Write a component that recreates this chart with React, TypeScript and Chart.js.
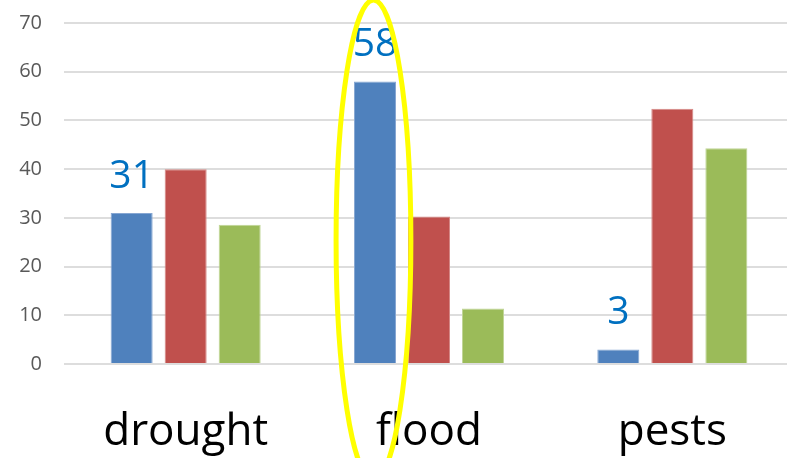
import React, { useEffect, useRef } from "react";
import { Chart, registerables } from "chart.js";

Chart.register(...registerables);

const categories = ["drought", "flood", "pests"];
const seriesBlue = [31, 58, 3];
const seriesRed = [40, 30.3, 52.4];
const seriesGreen = [28.6, 11.4, 44.3];
const blueLabels = ["31", "58", "3"];
const yMin = 0;
const yMax = 70;
const yStep = 10;

const labelPlugin = {
  id: "blueLabels",
  afterDatasetsDraw(chart: any) {
    const ctx = chart.ctx;
    const meta = chart.getDatasetMeta(0);
    ctx.save();
    ctx.font = "39px 'Open Sans'";
    ctx.fillStyle = "#0070C0";
    ctx.textAlign = "center";
    ctx.textBaseline = "alphabetic";
    meta.data.forEach((el: any, i: number) => {
      ctx.fillText(blueLabels[i], el.x, el.y - 25);
    });
    ctx.restore();
  },
};

const ellipsePlugin = {
  id: "highlightEllipse",
  afterDraw(chart: any) {
    const ctx = chart.ctx;
    const el: any = chart.getDatasetMeta(0).data[1];
    const y = chart.scales.y;
    if (!el) return;
    const cx = el.x - 1.5;
    const cy = y.getPixelForValue(25.4);
    const ry = y.getPixelForValue(0) - y.getPixelForValue(49.3);
    const rx = el.width * 0.89;
    ctx.save();
    ctx.strokeStyle = "#FFFF00";
    ctx.lineWidth = 5;
    ctx.beginPath();
    ctx.ellipse(cx, cy, rx, ry, 0, 0, Math.PI * 2);
    ctx.stroke();
    ctx.restore();
  },
};

export default function App() {
  const ref = useRef<HTMLCanvasElement>(null);
  useEffect(() => {
    if (!ref.current) return;
    const chart = new Chart(ref.current, {
      type: "bar",
      data: {
        labels: categories,
        datasets: [
          { data: seriesBlue, backgroundColor: "#4F81BD", borderColor: "#86A6D2", borderWidth: 1 },
          { data: seriesRed, backgroundColor: "#C0504D", borderColor: "#D58886", borderWidth: 1 },
          { data: seriesGreen, backgroundColor: "#9BBB59", borderColor: "#C0D597", borderWidth: 1 },
        ],
      },
      options: {
        responsive: false,
        animation: false,
        layout: { padding: { top: 23, left: 0, right: 0, bottom: 0 } },
        plugins: { legend: { display: false }, tooltip: { enabled: false } },
        datasets: { bar: { barPercentage: 0.778, categoryPercentage: 0.666 } },
        scales: {
          x: {
            grid: { display: false, drawTicks: false },
            border: { display: false },
            ticks: { font: { family: "'Open Sans'", size: 44 }, color: "#000000", padding: 42 },
            afterFit: (s: any) => { s.height = 94; },
          },
          y: {
            min: yMin,
            max: yMax,
            grid: { color: "#DDDDDD", lineWidth: 2, drawTicks: false },
            border: { display: false },
            ticks: { stepSize: yStep, font: { family: "'Open Sans'", size: 20 }, color: "#595959", padding: 22 },
            afterFit: (s: any) => { s.width = 64; s.paddingTop = 0; s.paddingBottom = 0; },
          },
        },
      },
      plugins: [labelPlugin, ellipsePlugin],
    });
    return () => chart.destroy();
  }, []);
  return (
    <div style={{ position: "fixed", left: 0, top: 0, width: 787, height: 458, overflow: "hidden", background: "#fff" }}>
      <canvas ref={ref} width={794} height={458} style={{ display: "block" }} />
    </div>
  );
}
